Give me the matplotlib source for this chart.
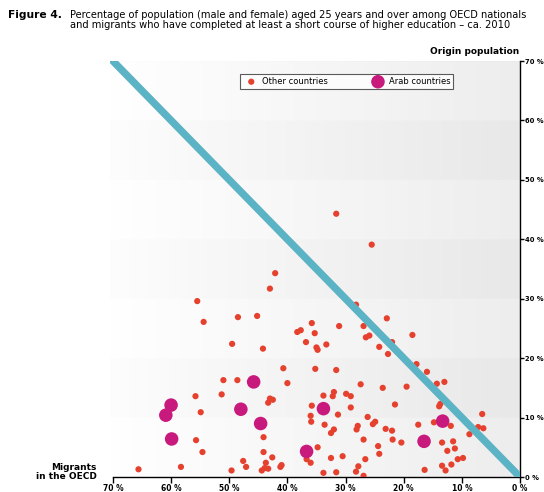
import numpy as np
import matplotlib
matplotlib.use("Agg")
from matplotlib import pyplot as plt
import matplotlib.patheffects as pe

# share with higher education, migrants in OECD (x) vs origin population (y)
other_x = [31.6, 25.5, 42.1, 43.0, 55.5, 54.4, 48.5, 45.2, 35.8, 38.3, 37.7, 35.3,
           36.8, 35.0, 34.8, 49.5, 44.2, 33.3, 28.2, 22.9, 31.1, 26.9, 26.5, 25.9,
           18.5, 24.2, 22.0, 22.7, 17.8, 40.7, 35.2, 31.6, 16.0, 14.3, 13.0, 27.4,
           23.6, 19.5, 51.0, 48.6, 40.0, 55.8, 51.3, 43.0, 42.5, 43.3, 33.8, 32.0,
           32.2, 29.9, 29.1, 35.8, 54.9, 29.1, 21.5, 13.9, 13.7, 6.5, 36.0, 35.9,
           31.3, 26.2, 14.8, 11.9, 7.2, 6.3, 33.6, 27.9, 28.1, 24.9, 25.3, 23.1,
           22.0, 17.5, 32.0, 32.5, 8.7, 26.9, 21.9, 20.4, 13.4, 11.5, 24.4, 11.2,
           12.5, 34.8, 24.2, 36.7, 36.0, 32.5, 30.5, 26.6, 10.7, 9.8, 11.8, 13.4,
           27.8, 28.2, 16.4, 12.8, 33.8, 31.6, 26.9, 55.7, 44.1, 54.6, 44.1, 42.6,
           47.6, 47.1, 43.7, 43.9, 43.3, 44.4, 41.0, 41.2, 58.3, 65.6, 49.6]
other_y = [44.3, 39.1, 34.3, 31.7, 29.6, 26.1, 26.9, 27.1, 25.9, 24.4, 24.7, 24.2,
           22.7, 21.8, 21.4, 22.4, 21.6, 22.3, 29.0, 26.7, 25.4, 25.4, 23.5, 23.8,
           23.9, 21.9, 22.7, 20.7, 19.0, 18.3, 18.2, 18.0, 17.7, 15.7, 16.0, 15.6,
           15.0, 15.2, 16.3, 16.3, 15.8, 13.6, 13.9, 13.2, 13.0, 12.5, 13.7, 14.3,
           13.6, 14.0, 13.6, 12.0, 10.9, 11.7, 12.2, 11.9, 12.3, 10.6, 10.3, 9.3,
           10.5, 10.1, 9.2, 8.6, 8.4, 8.2, 8.8, 8.6, 8.0, 9.3, 8.9, 8.1,
           7.8, 8.8, 8.0, 7.4, 7.2, 6.3, 6.3, 5.8, 5.8, 6.0, 5.2, 4.8,
           4.4, 5.0, 3.9, 3.0, 2.4, 3.2, 3.5, 3.0, 3.0, 3.2, 2.1, 1.9,
           1.8, 0.9, 1.2, 1.1, 0.7, 0.8, 0.2, 6.2, 6.7, 4.2, 4.2, 3.3,
           2.7, 1.7, 2.4, 1.5, 1.4, 1.1, 2.0, 1.7, 1.7, 1.3, 1.1]
arab_x = [45.8, 60.0, 60.9, 48.0, 33.8, 44.6, 59.9, 36.7, 13.3, 16.5]
arab_y = [16.0, 12.1, 10.4, 11.4, 11.5, 9.0, 6.4, 4.3, 9.4, 6.0]

ticks = [70, 60, 50, 40, 30, 20, 10, 0]
tick_labels = [f"{t} %" for t in ticks]

red = "#e5412e"
magenta = "#c8197c"
teal = "#5bb3c6"

fig = plt.figure(figsize=(5.44, 4.92), dpi=100)
ax = fig.add_axes([110 / 544, 1 - 477 / 492, 410 / 544, 416 / 492])

# background: light horizontal gradient, darker alternate bands
ny, nx = 700, 300
grad = np.linspace(1.0, 0.93, nx)
bg = np.tile(grad, (ny, 1))
yy = np.linspace(0, 70, ny)
band = ((yy // 10) % 2 == 1)
bg[band, :] -= 0.02 * np.linspace(0.4, 1.0, nx)
ax.imshow(np.dstack([bg, bg, bg]), extent=(70.5, 0, 0, 70), origin="lower",
          aspect="auto", zorder=0)

ax.scatter(other_x, other_y, s=20, color=red, edgecolors="none", zorder=3,
           label="Other countries")
ax.scatter(arab_x, arab_y, s=95, color=magenta, edgecolors="none", zorder=3,
           label="Arab countries")
ax.plot([70, 0], [70, 0], color=teal, lw=5.2, solid_capstyle="round", zorder=4,
        path_effects=[pe.SimpleLineShadow(offset=(1.5, -1.5), shadow_color="#999999", alpha=0.4),
                      pe.Normal()])

ax.set_xlim(70.5, 0)
ax.set_ylim(0, 70)
for s in ["top", "left"]:
    ax.spines[s].set_visible(False)
ax.spines["bottom"].set_bounds(70, 0)
ax.spines["bottom"].set_linewidth(1.0)
ax.spines["right"].set_linewidth(1.0)
ax.set_xticks(ticks)
ax.set_xticklabels(tick_labels)
ax.set_yticks(ticks)
ax.set_yticklabels(tick_labels)
ax.yaxis.tick_right()
ax.tick_params(axis="x", direction="out", length=4, width=1, pad=1, labelsize=6)
ax.tick_params(axis="y", direction="out", length=3, width=1, pad=0.5, labelsize=5.4)
for lab in ax.get_xticklabels() + ax.get_yticklabels():
    lab.set_fontweight("bold")
    lab.set_fontstretch("condensed")

leg = ax.legend(loc="upper left", bbox_to_anchor=(240 / 544, 1 - 74 / 492),
                bbox_transform=fig.transFigure, ncol=2, frameon=True, fancybox=False,
                edgecolor="#333333", fontsize=6, borderaxespad=0, handletextpad=0.3,
                columnspacing=5.0, borderpad=0.35, markerscale=1.0)
leg.get_frame().set_linewidth(0.8)

fig.text(8 / 544, 1 - 15 / 492, "Figure 4.", fontsize=7.7, fontweight="bold", va="center")
fig.text(70 / 544, 1 - 20 / 492,
         "Percentage of population (male and female) aged 25 years and over among OECD nationals\n"
         "and migrants who have completed at least a short course of higher education \u2013 ca. 2010",
         fontsize=7.1, va="center", linespacing=1.0)
fig.text(519 / 544, 1 - 51 / 492, "Origin population", fontsize=6.5, fontweight="bold",
         ha="right", va="center")
fig.text(97 / 544, 1 - 472 / 492, "Migrants\nin the OECD", fontsize=6.5, fontweight="bold",
         ha="right", va="center", multialignment="right", linespacing=1.0)

fig.savefig("out.png", dpi=100)
